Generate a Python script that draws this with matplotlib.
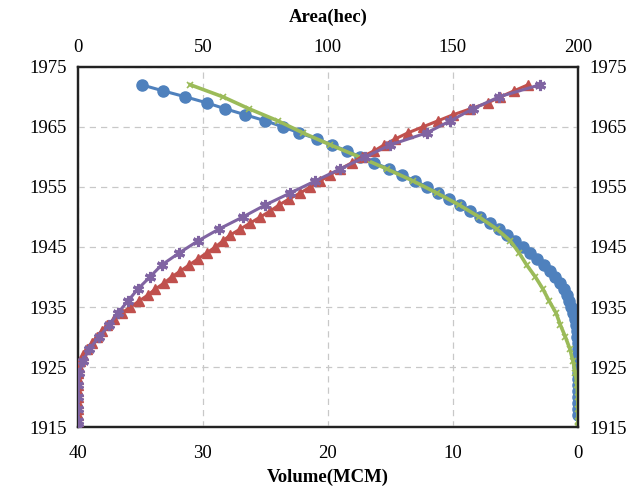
import matplotlib.pyplot as plt

plt.rcParams['font.family'] = ['Liberation Serif', 'DejaVu Serif']

# volume curve 1 (blue circles), one point per year
blue_elev = list(range(1917, 1973))
blue_vol = [0, 0, 0, 0, 0, 0, 0, 0, 0, 0, 0, 0.01, 0.03, 0.06,   # 1917-1930
            0.11, 0.18, 0.27, 0.38, 0.52, 0.7, 0.9, 1.15, 1.45, 1.8,  # 1931-1940
            2.2, 2.7, 3.3, 3.8, 4.4, 5.0, 5.7, 6.3, 7.0, 7.8,  # 1941-1950
            8.6, 9.4, 10.3, 11.2, 12.1, 13.0, 14.1, 15.1, 16.3, 17.4,  # 1951-1960
            18.5, 19.7, 20.9, 22.3, 23.6, 25.0, 26.6, 28.2, 29.7, 31.4,  # 1961-1970
            33.2, 34.9]

# volume curve 2 (green x)
green_elev = [1915] + list(range(1916, 1973, 2))
green_vol = [0, 0, 0, 0.02, 0.08, 0.2, 0.4, 0.64, 1.0, 1.4, 1.75,  # 1915-1934
             2.3, 2.8, 3.4, 4.1, 4.7, 5.4, 6.5, 7.9, 9.5, 11.3,  # 1936-1954
             13.2, 15.3, 17.5, 19.8, 22.0, 24.0, 26.3, 28.4, 31.0]

# area curve 1 (red triangles), one point per year
red_elev = list(range(1915, 1973))
red_area = [0, 0, 0, 0, 0, 0, 0, 0, 0, 0, 0.3, 0.8, 2, 3.6, 5.5, 7.5,  # 1915-1930
            9.5, 11.8, 14.5, 17.5, 21, 24.5, 28, 31, 34.5, 37.5,  # 1931-1940
            41, 44.5, 48, 51.5, 55, 58, 61, 65, 69, 73,  # 1941-1950
            77, 80.5, 84.5, 89, 93, 97, 100.8, 105, 109.5, 113.5,  # 1951-1960
            118.5, 122.5, 127, 132, 138, 144, 150, 157, 164, 169,  # 1961-1970
            174.5, 180]

# area curve 2 (purple stars)
purple_elev = [1915] + list(range(1916, 1973, 2))
purple_area = [0, 0, 0, 0, 0.2, 0.5, 2, 4.5, 8.5, 12.5, 16,  # 1915-1934
               20, 24, 28.8, 33.5, 40.5, 48, 56.5, 66, 75, 85,  # 1936-1954
               95, 105, 115, 125, 139.5, 149, 158, 168.5, 184.8]

fig = plt.figure(figsize=(6.33, 4.91), dpi=100)
ax = fig.add_axes([0.123, 0.130, 0.790, 0.734])

ax.plot(blue_vol, blue_elev, color='#4F81BD', marker='o', markersize=8, lw=2.2)
ax.plot(green_vol, green_elev, color='#9BBB59', marker='x', markersize=4,
        markeredgewidth=1.2, lw=2.6)
ax.set_xlim(40, 0)
ax.set_ylim(1915, 1975)
ax.set_xticks([40, 30, 20, 10, 0])
ax.set_yticks(range(1915, 1976, 10))
ax.set_xlabel('Volume(MCM)', fontweight='bold', fontsize=13.5, labelpad=5)
ax.grid(True, color='#c8c8c8', ls=(0, (5, 4)), lw=0.9)
ax.tick_params(axis='x', length=0, labelsize=13.5, pad=13)
ax.tick_params(axis='y', length=0, labelsize=13.5, labelright=True, pad=8)

ax2 = ax.twiny()
ax2.plot(red_area, red_elev, color='#C0504D', marker='^', markersize=7.5, lw=2.2)
ax2.plot(purple_area, purple_elev, color='#8064A2', marker=(6, 2, 0), markersize=8,
         markeredgewidth=2.2, lw=2.2)
ax2.set_xlim(0, 200)
ax2.set_xticks([0, 50, 100, 150, 200])
ax2.set_xlabel('Area(hec)', fontweight='bold', fontsize=13.5, labelpad=12)
ax2.tick_params(axis='x', length=0, labelsize=13.5, pad=8)
ax2.set_ylim(1915, 1975)

for a in (ax, ax2):
    for s in a.spines.values():
        s.set_color('#222222')
        s.set_linewidth(1.6)
        s.set_zorder(0)

plt.savefig('out.png', dpi=100)
